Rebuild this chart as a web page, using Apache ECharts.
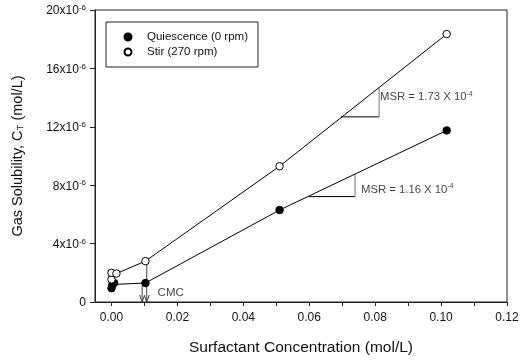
<!DOCTYPE html>
<html>
<head>
<meta charset="utf-8">
<script src="https://cdn.jsdelivr.net/npm/echarts@6/dist/echarts.min.js"></script>
<style>html,body{margin:0;padding:0;background:#fff;}#c{width:529px;height:362px;}</style>
</head>
<body>
<div id="c"></div>
<script>
// Data (gas solubility in units of 1e-6 mol/L)
var quiescenceX = [0, 0.0003, 0.0008, 0.0103, 0.051, 0.1017];
var quiescenceY = [0.95, 1.2, 1.3, 1.3, 6.3, 11.75];
var stirX = [0, 0, 0.0015, 0.0103, 0.051, 0.1017];
var stirY = [1.55, 2.0, 1.95, 2.8, 9.3, 18.35];
var xTickValues = [0, 0.01, 0.02, 0.03, 0.04, 0.05, 0.06, 0.07, 0.08, 0.09, 0.10, 0.11, 0.12];
var xLabelValues = [0, 0.02, 0.04, 0.06, 0.08, 0.10, 0.12];
var yTickValues = [0, 4, 8, 12, 16, 20];
var legendNames = ['Quiescence (0 rpm)', 'Stir (270 rpm)'];
// slope triangles [x1,y1,x2,y2]
var triStirH = [0.0696, 12.68, 0.0812, 12.68];
var triStirV = [0.0812, 12.68, 0.0812, 14.69];
var triQuiH = [0.0598, 7.22, 0.0739, 7.22];
var triQuiV = [0.0739, 7.22, 0.0739, 8.76];
// CMC arrows [x1,y1,x2,y2]
var cmcArrow1 = [0.0093, 1.15, 0.0093, 0];
var cmcArrow2 = [0.0107, 2.75, 0.0107, 0];
// annotations [x, y, text]
var msrStir = [0.0815, 14.1, 'MSR = 1.73 X 10', '-4'];
var msrQui = [0.0757, 7.78, 'MSR = 1.16 X 10', '-4'];
var cmcText = [0.014, 0.6, 'CMC'];

function zip(xs, ys){ return xs.map(function(x,i){ return [x, ys[i]]; }); }

var FONT = 'Liberation Sans, Arial, sans-serif';
var chart = echarts.init(document.getElementById('c'), null, {renderer:'canvas'});

function segRender(params, api){
  var p1 = api.coord([api.value(0), api.value(1)]);
  var p2 = api.coord([api.value(2), api.value(3)]);
  var kind = api.value(4);
  var color = kind === 1 ? '#777' : (kind === 2 ? '#444' : '#000');
  var children = [{type:'line', shape:{x1:p1[0],y1:p1[1],x2:p2[0],y2:p2[1]}, style:{stroke:color, lineWidth:1}}];
  if (kind === 2) {
    children.push({type:'polyline', shape:{points:[[p2[0]-2.5,p2[1]-7],[p2[0],p2[1]],[p2[0]+2.5,p2[1]-7]]}, style:{stroke:color, fill:null, lineWidth:1}});
  }
  return {type:'group', children: children};
}

var segData = [
  triStirH.concat([0]), triStirV.concat([1]),
  triQuiH.concat([0]), triQuiV.concat([1]),
  cmcArrow1.concat([2]), cmcArrow2.concat([2])
];

var richMsr = {
  b:{fontSize:11.3, fontFamily:FONT, color:'#111', verticalAlign:'bottom', lineHeight:13},
  s:{fontSize:7, fontFamily:FONT, color:'#111', verticalAlign:'bottom', lineHeight:13, padding:[0,0,5,0]}
};
var richTick = {
  b:{fontSize:12, fontFamily:FONT, color:'#111', verticalAlign:'bottom', lineHeight:14},
  s:{fontSize:8, fontFamily:FONT, color:'#111', verticalAlign:'bottom', lineHeight:14, padding:[0,0,5,0]}
};

var option = {
  animation:false,
  backgroundColor:'#fff',
  grid:{left:95, right:22, top:10, bottom:60, show:true, borderColor:'#222', borderWidth:1, backgroundColor:'transparent'},
  legend:{
    data:[{name:legendNames[0], icon:'circle'},{name:legendNames[1], icon:'circle'}],
    orient:'vertical', left:106, top:22,
    itemWidth:28, itemHeight:7, itemGap:3,
    borderColor:'#222', borderWidth:1, borderRadius:0,
    padding:[9,10,9,17.5],
    textStyle:{fontSize:11.5, fontFamily:FONT, color:'#111', lineHeight:12}
  },
  xAxis:{
    type:'value', min:-0.005, max:0.12,
    name:'Surfactant Concentration (mol/L)', nameLocation:'middle', nameGap:38,
    nameTextStyle:{fontSize:15.5, fontFamily:FONT, color:'#111'},
    axisLine:{onZero:false, lineStyle:{color:'#222', width:1}},
    axisTick:{show:true, customValues:xTickValues, length:4, lineStyle:{color:'#222'}},
    axisLabel:{customValues:xLabelValues, fontSize:12, fontFamily:FONT, color:'#111', margin:10,
      formatter:function(v){ return v.toFixed(2); }},
    splitLine:{show:false}
  },
  yAxis:{
    type:'value', min:0, max:20, interval:4,
    name:'Gas Solubility, C{sub|T} (mol/L)', nameLocation:'middle', nameGap:70, nameRotate:90,
    nameTextStyle:{fontSize:14.5, fontFamily:FONT, color:'#111',
      rich:{sub:{fontSize:9.5, fontFamily:FONT, color:'#111', verticalAlign:'bottom', padding:[4,0,0,0]}}},
    axisLine:{show:true, onZero:false, lineStyle:{color:'#222', width:1}},
    axisTick:{show:true, length:5, lineStyle:{color:'#222'}},
    axisLabel:{margin:9, rich:richTick,
      formatter:function(v){ return v === 0 ? '{b|0}' : '{b|' + v + 'x10}{s|-6}'; }},
    splitLine:{show:false}
  },
  series:[
    {name:legendNames[0], type:'line', data:zip(quiescenceX, quiescenceY),
      symbol:'circle', symbolSize:7.5, showAllSymbol:true,
      itemStyle:{color:'#000', borderColor:'#000', borderWidth:1},
      lineStyle:{color:'#000', width:1}, z:3},
    {name:legendNames[1], type:'line', data:zip(stirX, stirY),
      symbol:'circle', symbolSize:7.5, showAllSymbol:true,
      itemStyle:{color:'#fff', borderColor:'#000', borderWidth:1},
      lineStyle:{color:'#000', width:1}, z:3},
    {type:'custom', renderItem:segRender, data:segData,
      encode:{x:[0,2], y:[1,3]}, silent:true, z:2},
    {type:'scatter', symbolSize:0, silent:true,
      data:[msrStir, msrQui].map(function(a){ return {value:[a[0],a[1]], label:{formatter:'{b|' + a[2] + '}{s|' + a[3] + '}'}}; }),
      label:{show:true, position:'right', distance:0, rich:richMsr}},
    {type:'scatter', symbolSize:0, silent:true,
      data:[{value:[cmcText[0], cmcText[1]], label:{formatter:cmcText[2]}}],
      label:{show:true, position:'right', distance:0, fontSize:11.5, fontFamily:FONT, color:'#111'}}
  ]
};
chart.setOption(option);
</script>
</body>
</html>
